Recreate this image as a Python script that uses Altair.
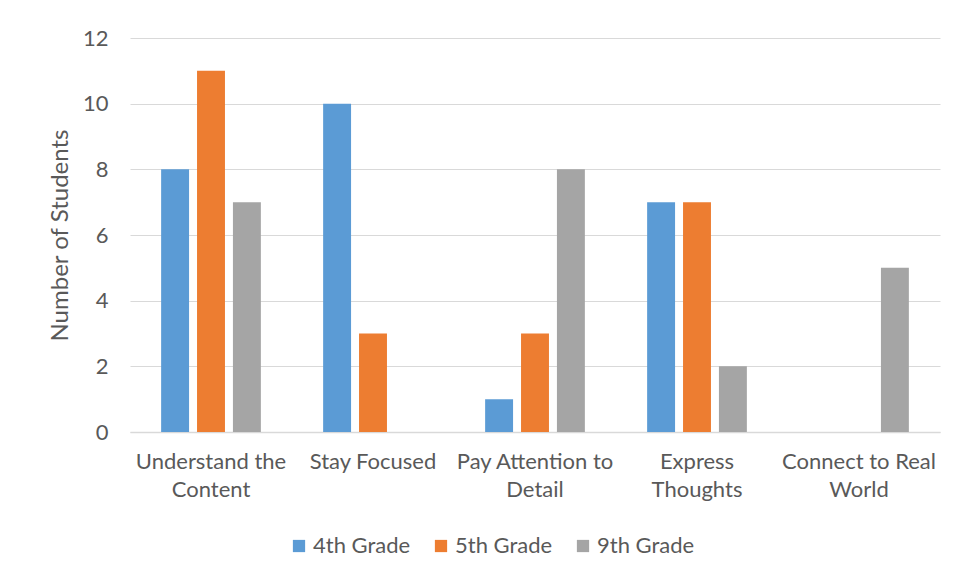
import altair as alt
import pandas as pd

categories = ["Understand the|Content", "Stay Focused", "Pay Attention to|Detail",
              "Express|Thoughts", "Connect to Real|World"]
series = ["4th Grade", "5th Grade", "9th Grade"]
grade4 = [8, 10, 1, 7, 0]
grade5 = [11, 3, 3, 7, 0]
grade9 = [7, 0, 8, 2, 5]
colors = ["#5B9BD5", "#ED7D31", "#A5A5A5"]

rows = []
for s, vals in zip(series, [grade4, grade5, grade9]):
    for c, v in zip(categories, vals):
        rows.append({"category": c, "grade": s, "students": v})
df = pd.DataFrame(rows)

FONT = "Lato"
GRAY = "#595959"

chart = alt.Chart(df).mark_bar().encode(
    x=alt.X("category:N", sort=categories,
            scale=alt.Scale(paddingInner=0, paddingOuter=0),
            axis=alt.Axis(title=None, labelAngle=0, labelExpr="split(datum.label, '|')",
                          labelFontSize=22, labelColor=GRAY, labelFont=FONT,
                          labelPadding=19, labelLineHeight=28, ticks=False,
                          domainColor="#D9D9D9", domainWidth=1.5, grid=False)),
    xOffset=alt.XOffset("grade:N", sort=series,
                        scale=alt.Scale(paddingInner=0.222, paddingOuter=0.867)),
    y=alt.Y("students:Q", scale=alt.Scale(domain=[0, 12]),
            axis=alt.Axis(title="Number of Students", values=[0, 2, 4, 6, 8, 10, 12],
                          titleFontSize=24, titleFont=FONT, titleColor=GRAY,
                          titleFontWeight="normal", titlePadding=10,
                          labelFontSize=22, labelFont=FONT, labelColor=GRAY,
                          labelPadding=22, ticks=False, domain=False,
                          gridColor="#D9D9D9", gridWidth=1)),
    color=alt.Color("grade:N", sort=series,
                    scale=alt.Scale(domain=series, range=colors),
                    legend=alt.Legend(title=None, orient="none", direction="horizontal",
                                      legendX=158, legendY=497,
                                      symbolType="square", symbolSize=150,
                                      symbolStrokeWidth=0,
                                      labelFontSize=22, labelFont=FONT, labelColor=GRAY,
                                      columnPadding=19, labelOffset=3)),
).properties(
    width=810, height=394,
    background="white",
    autosize=alt.AutoSizeParams(type="none"),
    padding={"left": 122, "top": 30, "right": 10, "bottom": 130},
).configure_view(stroke=None)

chart.save("out.html", embed_options={"renderer": "svg", "actions": False})
